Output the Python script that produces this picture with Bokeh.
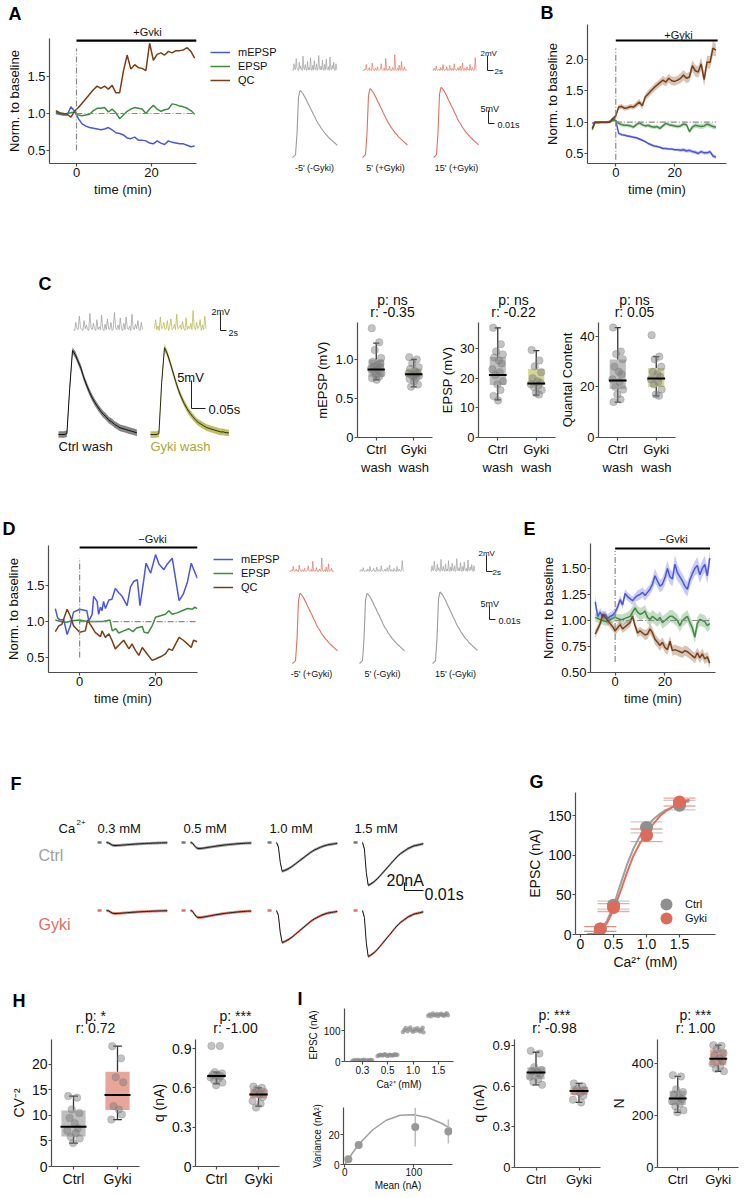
import numpy as np
from bokeh.plotting import figure
from bokeh.models import (Range1d, FixedTicker, Label, Legend, LegendItem,
                          Whisker, TeeHead, ColumnDataSource, PrintfTickFormatter)
from bokeh.layouts import row, column
from bokeh.embed import file_html
from bokeh.resources import INLINE

FONT = "Liberation Sans"
BLUE = "#4b56e0"; GREEN = "#3f8c3f"; BROWN = "#7a3e15"
GRAYC = "#9b9b9b"; REDC = "#e0705f"; OLIVEC = "#b4b444"
AXC = "#4d4d4d"; TXT = "#111111"; REFC = "#8a8a8a"

# ======================= DATA =======================
A_time = [-5.5, -4.5, -3.5, -2.5, -1.5, -0.5, 0.5, 1.5, 2.5, 3.5,
          4.5, 5.5, 6.5, 7.5, 8.5, 9.5, 10.5, 11.5, 12.5, 13.5,
          14.5, 15.5, 16.5, 17.5, 18.5, 19.5, 20.5, 21.5, 22.5, 23.5,
          24.5, 25.5, 26.5, 27.5, 28.5, 29.5, 30.5, 31.5]
A_mepsp = [1.00, 0.99, 0.98, 0.98, 1.09, 1.03, 0.93, 0.86, 0.83, 0.81,
           0.80, 0.79, 0.78, 0.79, 0.81, 0.78, 0.74, 0.73, 0.71, 0.67,
           0.66, 0.68, 0.64, 0.64, 0.63, 0.60, 0.59, 0.63, 0.60, 0.58,
           0.63, 0.61, 0.60, 0.59, 0.59, 0.57, 0.55, 0.56]
A_epsp = [1.02, 1.00, 0.99, 1.00, 1.01, 1.02, 0.98, 0.97, 0.98, 0.99,
          1.04, 1.07, 1.07, 1.08, 1.02, 1.06, 1.01, 0.93, 0.98, 1.03,
          1.06, 1.08, 1.07, 1.06, 1.00, 1.06, 1.11, 1.06, 1.03, 1.05,
          1.06, 1.13, 1.12, 1.10, 1.09, 1.07, 1.04, 0.99]
A_qc = [1.04, 1.01, 1.00, 0.99, 0.95, 1.03, 1.08, 1.14, 1.20, 1.26,
        1.32, 1.37, 1.34, 1.37, 1.33, 1.38, 1.28, 1.28, 1.57, 1.79,
        1.60, 1.66, 1.62, 1.61, 1.58, 1.95, 1.72, 1.80, 1.82, 1.79,
        1.84, 1.82, 1.85, 1.85, 1.86, 1.89, 1.84, 1.75]

B_time = [-8, -7, -6, -5, -4, -3, -2, -1, 0, 1,
          2, 3, 4, 5, 6, 7, 8, 9, 10, 11,
          12, 13, 14, 15, 16, 17, 18, 19, 20, 21,
          22, 23, 24, 25, 26, 27, 28, 29, 30, 31,
          32, 33, 34]
B_mepsp = [0.98, 1.00, 0.99, 1.00, 1.00, 1.00, 1.01, 1.06, 1.02, 0.82,
           0.80, 0.79, 0.78, 0.77, 0.76, 0.75, 0.73, 0.71, 0.69, 0.66,
           0.64, 0.62, 0.61, 0.60, 0.58, 0.58, 0.57, 0.57, 0.56, 0.56,
           0.55, 0.56, 0.54, 0.55, 0.53, 0.52, 0.50, 0.53, 0.51, 0.51,
           0.53, 0.46, 0.44]
B_mepsp_err = [0.02, 0.02, 0.02, 0.02, 0.02, 0.02, 0.02, 0.02, 0.02, 0.02,
               0.02, 0.02, 0.02, 0.02, 0.02, 0.02, 0.02, 0.02, 0.02, 0.02,
               0.02, 0.02, 0.02, 0.02, 0.02, 0.02, 0.02, 0.02, 0.02, 0.02,
               0.03, 0.03, 0.03, 0.03, 0.03, 0.03, 0.03, 0.03, 0.03, 0.03,
               0.03, 0.03, 0.03]
B_epsp = [0.88, 1.00, 1.00, 1.00, 1.00, 1.00, 1.01, 1.03, 1.02, 0.98,
          0.96, 0.95, 0.95, 0.94, 0.92, 0.96, 0.99, 0.96, 0.94, 0.95,
          0.93, 0.92, 0.93, 0.90, 0.94, 0.98, 0.96, 0.95, 0.94, 0.93,
          0.94, 0.97, 0.96, 0.85, 0.92, 0.95, 0.94, 0.93, 0.94, 0.97,
          0.95, 0.93, 0.92]
B_epsp_err = [0.03, 0.02, 0.02, 0.02, 0.02, 0.02, 0.02, 0.02, 0.02, 0.03,
              0.03, 0.03, 0.03, 0.03, 0.03, 0.03, 0.03, 0.03, 0.03, 0.03,
              0.03, 0.03, 0.03, 0.03, 0.03, 0.03, 0.03, 0.03, 0.03, 0.03,
              0.03, 0.03, 0.03, 0.04, 0.04, 0.04, 0.04, 0.04, 0.04, 0.04,
              0.04, 0.04, 0.04]
B_qc = [0.90, 1.00, 1.00, 1.00, 1.00, 1.00, 1.00, 1.05, 1.10, 1.24,
        1.25, 1.22, 1.23, 1.25, 1.24, 1.28, 1.32, 1.26, 1.40, 1.45,
        1.50, 1.55, 1.59, 1.63, 1.67, 1.64, 1.70, 1.66, 1.65, 1.67,
        1.70, 1.75, 1.70, 1.72, 1.90, 1.82, 1.80, 1.93, 1.68, 1.96,
        1.95, 2.18, 2.15]
B_qc_err = [0.03, 0.02, 0.02, 0.02, 0.02, 0.02, 0.02, 0.03, 0.04, 0.04,
            0.04, 0.04, 0.04, 0.04, 0.04, 0.05, 0.05, 0.05, 0.05, 0.06,
            0.06, 0.06, 0.06, 0.06, 0.07, 0.07, 0.07, 0.07, 0.07, 0.07,
            0.08, 0.08, 0.08, 0.08, 0.09, 0.09, 0.09, 0.10, 0.11, 0.10,
            0.10, 0.12, 0.10]

C_mepsp_ctrl = [1.40, 1.22, 1.12, 1.02, 0.97, 0.93, 0.90, 0.88, 0.87, 0.85, 0.82, 0.80, 0.78, 0.76, 0.74, 0.95, 0.91]
C_mepsp_gyki = [1.03, 1.00, 0.95, 0.90, 0.88, 0.85, 0.83, 0.82, 0.81, 0.80, 0.79, 0.78, 0.77, 0.75, 0.72, 0.68, 0.65]
C_mepsp_stats = [(0.78, 0.87, 1.00, 0.74, 1.21), (0.78, 0.81, 0.885, 0.65, 1.00)]
C_epsp_ctrl = [37, 31.5, 29, 28, 27, 26, 25, 23, 22, 21, 19, 18, 16, 14, 12.5]
C_epsp_gyki = [29.5, 26, 24, 22, 20, 19, 18.5, 18, 17.5, 17, 16, 15, 14.5]
C_epsp_stats = [(17.7, 21.1, 27.2, 12.7, 37.0), (17.7, 18.2, 23.2, 14.3, 29.3)]
C_qc_ctrl = [43.5, 34, 33, 31, 28, 26, 25, 23, 22, 20, 19, 17, 15, 14]
C_qc_gyki = [40.5, 32, 31, 28, 26, 25, 24, 23, 22, 21, 19, 17, 16.5]
C_qc_stats = [(19.2, 22.6, 30.9, 14.0, 43.5), (20.0, 23.3, 27.5, 16.5, 32.0)]
C_titles = [("p: ns", "r: -0.35"), ("p: ns", "r: -0.22"), ("p: ns", "r: 0.05")]

D_t_mepsp = [-6.4, -5.8, -5.1, -4.2, -3.3, -2.5, -1.6, 0.0, 1.9, 2.4,
             3.3, 3.7, 4.6, 5.0, 5.5, 5.9, 6.3, 6.8, 7.7, 8.5,
             9.4, 10.3, 11.2, 12.5, 13.4, 14.3, 15.2, 15.9, 16.9, 17.5,
             18.7, 20.0, 20.9, 22.2, 23.1, 24.4, 26.2, 27.3, 28.4, 29.4,
             30.0, 31.0]
D_mepsp = [1.18, 1.05, 1.02, 1.03, 0.82, 0.93, 1.13, 1.17, 1.15, 1.01,
           1.10, 1.35, 1.28, 1.10, 1.20, 1.15, 1.28, 1.18, 1.30, 1.31,
           1.46, 1.40, 1.35, 1.22, 1.48, 1.56, 1.58, 1.22, 1.58, 1.81,
           1.67, 1.93, 1.80, 1.72, 1.80, 1.88, 1.29, 1.38, 1.55, 1.81,
           1.73, 1.60]
D_t_epsp = [-6.4, -5.0, -3.5, -2.0, 0.0, 2.0, 4.0, 6.0, 7.0, 8.0,
            8.6, 9.5, 10.3, 11.6, 13.0, 14.0, 15.0, 16.5, 17.0, 18.0,
            19.1, 20.0, 21.3, 22.6, 23.5, 24.4, 25.7, 27.0, 28.4, 29.7,
            30.3, 31.0]
D_epsp = [1.02, 1.00, 0.99, 1.01, 1.02, 1.00, 1.00, 1.00, 1.01, 1.02,
          0.87, 0.90, 0.84, 0.87, 0.90, 0.86, 0.91, 0.93, 0.85, 0.84,
          0.94, 1.06, 1.08, 1.10, 1.15, 1.10, 1.12, 1.15, 1.18, 1.17,
          1.20, 1.18]
D_t_qc = [-6.4, -5.5, -4.7, -3.3, -2.5, -1.6, 0.0, 1.5, 2.1, 3.3,
          4.1, 5.5, 5.9, 6.8, 7.7, 8.5, 9.4, 10.3, 11.6, 13.0,
          13.8, 14.7, 15.6, 16.5, 17.8, 19.1, 20.0, 21.3, 22.6, 23.5,
          24.4, 25.3, 26.2, 27.3, 28.4, 29.4, 30.0, 31.0]
D_qc = [0.86, 0.94, 0.96, 1.17, 1.08, 0.94, 0.85, 0.87, 1.02, 0.92,
        0.85, 0.79, 0.87, 0.78, 0.83, 0.74, 0.62, 0.67, 0.74, 0.62,
        0.69, 0.60, 0.53, 0.64, 0.55, 0.46, 0.48, 0.51, 0.55, 0.62,
        0.60, 0.69, 0.78, 0.74, 0.69, 0.64, 0.74, 0.72]

E_time = [-8, -7, -6, -5, -4, -3, -2, -1, 0, 1,
          2, 3, 4, 5, 6, 7, 8, 9, 10, 11,
          12, 13, 14, 15, 16, 17, 18, 19, 20, 21,
          22, 23, 24, 25, 26, 27, 28, 29, 30, 31,
          32, 33, 34, 35, 36, 37, 38]
E_mepsp = [1.18, 1.04, 1.08, 1.03, 1.06, 1.02, 1.04, 1.05, 1.08, 1.13,
           1.20, 1.15, 1.26, 1.23, 1.21, 1.19, 1.22, 1.24, 1.25, 1.27,
           1.24, 1.27, 1.30, 1.35, 1.43, 1.38, 1.33, 1.35, 1.41, 1.50,
           1.42, 1.40, 1.54, 1.46, 1.42, 1.38, 1.33, 1.30, 1.39, 1.45,
           1.50, 1.53, 1.44, 1.50, 1.54, 1.43, 1.60]
E_mepsp_err = [0.06, 0.04, 0.04, 0.04, 0.04, 0.04, 0.04, 0.04, 0.04, 0.04,
               0.04, 0.04, 0.04, 0.04, 0.04, 0.04, 0.04, 0.05, 0.05, 0.05,
               0.05, 0.05, 0.05, 0.06, 0.07, 0.06, 0.06, 0.06, 0.07, 0.08,
               0.07, 0.07, 0.09, 0.08, 0.07, 0.07, 0.07, 0.07, 0.07, 0.07,
               0.07, 0.08, 0.08, 0.08, 0.08, 0.08, 0.08]
E_epsp = [1.03, 1.02, 1.01, 1.00, 0.99, 0.99, 1.01, 1.02, 1.03, 1.02,
          1.01, 1.01, 1.02, 1.03, 1.04, 1.08, 1.12, 1.08, 1.06, 1.07,
          1.09, 1.03, 1.01, 1.04, 1.02, 1.00, 1.03, 0.98, 1.00, 1.02,
          1.04, 1.04, 1.02, 1.00, 0.95, 1.00, 1.02, 1.04, 0.98, 0.93,
          0.84, 0.97, 1.01, 1.00, 0.99, 0.95, 0.97]
E_epsp_err = [0.04, 0.04, 0.04, 0.04, 0.04, 0.04, 0.04, 0.04, 0.04, 0.04,
              0.05, 0.05, 0.05, 0.05, 0.06, 0.06, 0.06, 0.06, 0.06, 0.06,
              0.06, 0.06, 0.06, 0.06, 0.06, 0.06, 0.06, 0.06, 0.06, 0.06,
              0.06, 0.06, 0.06, 0.06, 0.06, 0.06, 0.06, 0.06, 0.06, 0.06,
              0.06, 0.06, 0.06, 0.06, 0.06, 0.06, 0.06]
E_qc = [0.87, 0.92, 0.97, 1.06, 1.03, 1.00, 0.97, 0.94, 0.90, 0.93,
        0.96, 0.92, 0.94, 0.96, 0.98, 1.04, 0.95, 0.88, 0.90, 0.88,
        0.86, 0.87, 0.92, 0.88, 0.82, 0.79, 0.76, 0.79, 0.74, 0.72,
        0.80, 0.71, 0.72, 0.71, 0.70, 0.69, 0.71, 0.70, 0.68, 0.66,
        0.64, 0.69, 0.64, 0.68, 0.63, 0.65, 0.59]
E_qc_err = [0.04, 0.04, 0.04, 0.04, 0.04, 0.04, 0.04, 0.04, 0.04, 0.04,
            0.04, 0.04, 0.04, 0.04, 0.04, 0.04, 0.04, 0.04, 0.04, 0.04,
            0.05, 0.05, 0.05, 0.05, 0.05, 0.05, 0.05, 0.05, 0.05, 0.05,
            0.05, 0.05, 0.05, 0.05, 0.05, 0.05, 0.05, 0.05, 0.05, 0.05,
            0.05, 0.05, 0.05, 0.05, 0.05, 0.05, 0.05]

MINIS_1 = [0.1, 0.0, 0.9, 0.2, 0.1, 1.6, 0.3, 0.1, 0.0, 1.1,
           0.2, 0.6, 0.1, 0.0, 1.9, 0.3, 0.1, 0.8, 0.2, 0.0,
           1.2, 0.1, 0.4, 0.1, 1.7, 0.2, 0.0, 0.7, 0.1, 1.3,
           0.2, 0.1, 0.9, 0.0, 0.2, 2.0, 0.3, 0.1, 0.6, 0.1,
           1.4, 0.2, 0.0, 0.8, 0.1, 1.5, 0.3, 0.1, 0.5, 0.0,
           1.8, 0.2, 0.1, 0.7, 0.2, 1.1, 0.1, 0.0, 0.9, 0.1]
MINIS_2 = [0.0, 0.1, 0.0, 0.2, 0.1, 0.8, 0.1, 0.0, 0.1, 0.4,
           0.0, 0.1, 0.0, 1.0, 0.2, 0.1, 0.0, 0.3, 0.1, 0.0,
           0.5, 0.1, 0.0, 0.1, 0.2, 0.9, 0.1, 0.0, 0.1, 0.3,
           0.0, 1.6, 0.1, 0.0, 0.2, 0.1, 0.6, 0.0, 0.1, 0.0,
           0.4, 0.1, 0.0, 2.1, 0.2, 0.0, 0.1, 0.3, 0.0, 0.7,
           0.1, 0.0, 1.2, 0.1, 0.0, 0.2, 0.5, 0.0, 0.1, 0.0]
MINIS_3 = [0.1, 0.0, 0.3, 0.1, 0.0, 0.6, 0.1, 0.0, 0.1, 0.2,
           0.0, 0.4, 0.1, 0.0, 0.8, 0.1, 0.0, 0.2, 0.1, 0.5,
           0.0, 0.1, 0.0, 0.7, 0.1, 0.0, 0.3, 0.1, 0.0, 0.9,
           0.1, 0.2, 0.0, 0.1, 0.4, 0.0, 0.1, 0.6, 0.0, 0.1,
           1.0, 0.1, 0.0, 0.3, 0.1, 0.0, 0.5, 0.1, 0.2, 0.0,
           0.8, 0.1, 0.0, 0.4, 0.1, 0.0, 0.2, 1.7, 0.1, 0.0]
MINIS_4 = [0.2, 1.2, 0.1, 0.5, 0.0, 1.5, 0.2, 0.3, 0.9, 0.1,
           0.2, 1.1, 0.0, 0.4, 1.3, 0.1, 0.2, 0.7, 0.1, 1.8,
           0.2, 0.3, 0.6, 0.1, 1.0, 0.2, 0.0, 1.4, 0.1, 0.5,
           0.2, 0.8, 0.1, 2.2, 0.3, 0.1, 0.9, 0.2, 0.4, 1.2,
           0.0, 0.6, 0.1, 1.6, 0.2]
EPSP_WAVE = [0.0, 0.02, 0.04, 0.35, 0.90, 1.00, 0.98, 0.95, 0.91, 0.87,
             0.82, 0.78, 0.73, 0.69, 0.64, 0.60, 0.55, 0.51, 0.48, 0.44,
             0.41, 0.38, 0.35, 0.33, 0.30, 0.28, 0.26, 0.24, 0.22, 0.20, 0.18]
EPSP_A_amp = [25.8, 26.5, 27.0]
EPSP_D_amp = [27.0, 27.0, 27.5]
A_trace_labels = ["-5' (-Gyki)", "5' (+Gyki)", "15' (+Gyki)"]
D_trace_labels = ["-5' (+Gyki)", "5' (-Gyki)", "15' (-Gyki)"]
C_WAVE_CTRL = [0.0, 0.0, 0.0, 0.01, 0.55, 1.00, 0.95, 0.87, 0.79, 0.68,
               0.59, 0.51, 0.44, 0.38, 0.33, 0.28, 0.24, 0.21, 0.17, 0.15,
               0.12, 0.10, 0.08, 0.07, 0.06, 0.05, 0.04, 0.03, 0.02]
C_WAVE_GYKI = [0.0, 0.0, 0.0, 0.01, 0.60, 1.00, 0.93, 0.83, 0.72, 0.61,
               0.51, 0.43, 0.36, 0.30, 0.25, 0.21, 0.17, 0.14, 0.12, 0.10,
               0.08, 0.07, 0.06, 0.05, 0.04, 0.03, 0.03, 0.02, 0.02]
C_amp = [15.0, 15.5]

EPSC_FAST = [0.0, -0.15, -0.70, -1.00, -0.98, -0.95, -0.92, -0.88, -0.84, -0.79,
             -0.74, -0.69, -0.64, -0.59, -0.54, -0.49, -0.44, -0.39, -0.34, -0.30,
             -0.26, -0.23, -0.20, -0.17, -0.14, -0.12, -0.10, -0.08, -0.07, -0.06,
             -0.05, -0.04, -0.03]
EPSC_SLOW = [0.0, -0.10, -0.50, -0.85, -1.00, -1.00, -0.97, -0.93, -0.88, -0.83,
             -0.78, -0.73, -0.68, -0.63, -0.58, -0.54, -0.50, -0.46, -0.42, -0.38,
             -0.35, -0.32, -0.29, -0.26, -0.23, -0.21, -0.18, -0.16, -0.14, -0.12,
             -0.10, -0.09, -0.08]
F_ca_labels = ["0.3 mM", "0.5 mM", "1.0 mM", "1.5 mM"]
F_amp_ctrl = [7.5, 15.0, 72.0, 107.0]
F_amp_gyki = [7.5, 17.5, 80.0, 115.0]

G_ca = [0.3, 0.5, 1.0, 1.5]
G_ctrl = [7, 37, 135, 163]
G_ctrl_err = [3, 5, 7, 6]
G_gyki = [7, 34, 125, 167]
G_gyki_err = [3, 5, 8, 5]
G_fit_x = [0.1, 0.2, 0.3, 0.4, 0.5, 0.6, 0.7, 0.8, 0.9, 1.0, 1.1, 1.2, 1.3, 1.4, 1.5, 1.6, 1.65]
G_fit_ctrl = [0, 1, 6, 17, 36, 62, 87, 108, 124, 136, 145, 152, 157, 161, 164, 167, 168]
G_fit_gyki = [0, 1, 5, 14, 31, 53, 77, 99, 115, 127, 139, 149, 156, 161, 165, 169, 170]

H_cv_ctrl = [13.8, 13.5, 11.2, 10.5, 9.5, 8.5, 7.5, 7.0, 6.5, 5.8, 5.5, 4.6]
H_cv_gyki = [23.6, 21.2, 17.5, 16.5, 11.8, 11.2, 10.2, 9.2]
H_cv_stats = [(5.9, 7.8, 11.0, 4.6, 13.8), (11.1, 14.0, 18.6, 9.2, 23.6)]
H_q_ctrl = [0.92, 0.92, 0.72, 0.71, 0.70, 0.69, 0.69, 0.68, 0.67, 0.66, 0.64, 0.62]
H_q_gyki = [0.61, 0.60, 0.59, 0.57, 0.56, 0.55, 0.53, 0.50, 0.48, 0.45]
H_q_stats = [(0.675, 0.69, 0.705, 0.63, 0.72), (0.52, 0.55, 0.585, 0.46, 0.60)]

I_ca_labels = ["0.3", "0.5", "1.0", "1.5"]
I_epsc = [[2, 3, 4, 3, 5, 2, 4, 3, 6, 3, 2, 4, 3, 5, 4],
          [18, 20, 22, 19, 21, 23, 20, 18, 22, 21, 19, 20, 23, 21, 22],
          [95, 102, 108, 98, 104, 110, 100, 96, 105, 99, 107, 101, 97, 103, 109, 94],
          [148, 152, 146, 155, 150, 149, 153, 147, 151, 154, 150, 148, 152, 156, 149]]
I_mean = [5, 20, 102, 150]
I_var = [3.5, 13, 25, 22]
I_var_err = [0.5, 0.8, 13, 8]
I_fit_x = [0, 10, 20, 40, 60, 80, 100, 120, 140, 155]
I_fit_y = [0, 7.0, 13.3, 23.0, 29.5, 32.8, 33.2, 31.3, 27.5, 23.6]
I_q_ctrl = [0.86, 0.84, 0.74, 0.72, 0.71, 0.70, 0.69, 0.67, 0.65, 0.63, 0.61]
I_q_gyki = [0.62, 0.60, 0.58, 0.57, 0.56, 0.55, 0.53, 0.50, 0.48]
I_q_stats = [(0.65, 0.70, 0.74, 0.61, 0.85), (0.535, 0.565, 0.595, 0.48, 0.62)]
I_N_ctrl = [355, 350, 300, 290, 280, 270, 262, 255, 245, 235, 220, 212]
I_N_gyki = [470, 468, 455, 440, 430, 420, 410, 400, 390, 380, 370]
I_N_stats = [(240, 265, 295, 212, 350), (393, 418, 454, 370, 470)]

JIT = [-0.12, 0.08, -0.04, 0.13, -0.09, 0.03, 0.10, -0.14, 0.05, -0.06,
       0.14, -0.01, 0.07, -0.11, 0.01, 0.11, -0.07]
JIT_I = [-0.40, -0.34, -0.29, -0.22, -0.17, -0.11, -0.05, 0.0, 0.06, 0.11,
         0.17, 0.22, 0.28, 0.33, 0.38, 0.41]


# ======================= HELPERS =======================
class Panel:
    def __init__(self, L, T, W, H, xr=None, yr=None, left=0, right=0, top=0,
                 bottom=0, axes=True, fs="13px", lfs="13px"):
        if xr is None:
            xr = (0, W)
        if yr is None:
            yr = (0, H)
        kw = dict(width=W, height=H, x_range=Range1d(*xr), y_range=Range1d(*yr),
                  output_backend="svg", toolbar_location=None,
                  min_border_left=left, min_border_right=right,
                  min_border_top=top, min_border_bottom=bottom)
        if not axes:
            kw.update(x_axis_location=None, y_axis_location=None)
        p = figure(**kw)
        p.outline_line_color = None
        p.grid.visible = False
        if axes:
            for ax in (p.xaxis[0], p.yaxis[0]):
                ax.axis_line_color = AXC
                ax.axis_line_width = 1.2
                ax.major_tick_line_color = AXC
                ax.major_tick_line_width = 1.2
                ax.major_tick_in = 0
                ax.major_tick_out = 3
                ax.minor_tick_line_color = None
                ax.major_label_text_font = FONT
                ax.major_label_text_font_size = fs
                ax.major_label_text_color = TXT
                ax.major_label_standoff = 1
                ax.axis_label_text_font = FONT
                ax.axis_label_text_font_size = lfs
                ax.axis_label_text_font_style = "normal"
                ax.axis_label_text_color = TXT
                ax.axis_label_standoff = 2
        self.p = p
        self.fl = L + left
        self.fb = T + H - bottom

    def X(self, x):
        return np.asarray(x, dtype=float) - self.fl

    def Y(self, y):
        return self.fb - np.asarray(y, dtype=float)

    def lab(self, x, y, text, size="13px", align="left", baseline="alphabetic",
            color=TXT, bold=False):
        self.p.add_layout(Label(x=x - self.fl, y=self.fb - y, x_units="screen",
                                y_units="screen", text=text, text_font=FONT,
                                text_font_size=size, text_align=align,
                                text_baseline=baseline, text_color=color,
                                text_font_style="bold" if bold else "normal"))

    def letter(self, x, y, text):
        self.lab(x, y, text, size="18px", baseline="top", bold=True, color="#000000")


def ticks(p, xt=None, yt=None, xo=None, yo=None, xfmt=None, yfmt=None):
    if xt is not None:
        p.xaxis.ticker = FixedTicker(ticks=xt)
    if yt is not None:
        p.yaxis.ticker = FixedTicker(ticks=yt)
    if xfmt:
        p.xaxis.formatter = PrintfTickFormatter(format=xfmt)
    if yfmt:
        p.yaxis.formatter = PrintfTickFormatter(format=yfmt)
    if xo:
        p.xaxis.major_label_overrides = xo
    if yo:
        p.yaxis.major_label_overrides = yo


def boxplot(p, pos, vals, stats, color, alpha, width=0.42, cap=0.16):
    q1, med, q3, wlo, whi = stats
    p.quad(left=[pos - width / 2], right=[pos + width / 2], bottom=[q1], top=[q3],
           fill_color=color, fill_alpha=alpha, line_color=None)
    p.segment(x0=[pos, pos], y0=[q3, q1], x1=[pos, pos], y1=[whi, wlo],
              line_color="#333333", line_width=1.3)
    p.segment(x0=[pos - cap / 2] * 2, y0=[whi, wlo], x1=[pos + cap / 2] * 2,
              y1=[whi, wlo], line_color="#333333", line_width=1.3)
    xs = [pos + JIT[i % len(JIT)] for i in range(len(vals))]
    p.scatter(xs, vals, size=7.5, fill_color="#7a7a7a", fill_alpha=0.45,
              line_color="#7a7a7a", line_alpha=0.3)
    p.segment(x0=[pos - width / 2 - 0.02], y0=[med], x1=[pos + width / 2 + 0.02],
              y1=[med], line_color="#000000", line_width=2)


def time_panel(pn, series, bar_end, bar_y, vline, hline_end):
    p = pn.p
    for t, v, e, c in series:
        if e is not None:
            lo = np.array(v) - np.array(e)
            hi = np.array(v) + np.array(e)
            p.varea(x=t, y1=lo, y2=hi, fill_color=c, fill_alpha=0.3)
    for t, v, e, c in series:
        p.line(t, v, line_color=c, line_width=1.5)
    p.line([0, 0], vline, line_color=REFC, line_width=1.2, line_dash="6 2 1 2")
    p.line([0, hline_end], [1.0, 1.0], line_color=REFC, line_width=1.2, line_dash="6 2 1 2")
    p.line([0, bar_end], [bar_y, bar_y], line_color="#000000", line_width=2.2)
    p.yaxis.axis_label = "Norm. to baseline"
    p.xaxis.axis_label = "time (min)"


def legend3(pn, x, y, rowh):
    p = pn.p
    rs = [p.line([np.nan, np.nan], [np.nan, np.nan], line_color=c, line_width=1.5)
          for c in (BLUE, GREEN, BROWN)]
    items = [LegendItem(label=n, renderers=[r]) for n, r in zip(["mEPSP", "EPSP", "QC"], rs)]
    leg = Legend(items=items, location=(x, y), padding=0, margin=0, spacing=0,
                 glyph_width=20, glyph_height=rowh, label_height=rowh,
                 label_standoff=8, label_text_font=FONT, label_text_font_size="11px",
                 label_text_color=TXT, border_line_color=None, background_fill_alpha=0)
    p.add_layout(leg)


def place(pn, x0, y0, t, v, sx, sy):
    return pn.X(x0) + np.asarray(t, dtype=float) * sx, pn.Y(y0) + np.asarray(v, dtype=float) * sy


def scalebar(pn, x, y, h, w, color="#222222", lw=1.0):
    pn.p.line(list(pn.X([x, x, x + w])), list(pn.Y([y - h, y, y])), line_color=color, line_width=lw)


def W(pn):
    return column(pn.p)


# ======================= BAND 1 (A, traces, B) =======================
sA = Panel(0, 0, 200, 36, axes=False)
sA.letter(8, 3, "A")
sA.lab(147, 31, "+Gyki", size="11px", align="center")
pa = Panel(0, 36, 200, 202, xr=(-7.2, 32.0), yr=(0.324, 2.014), left=49, right=4, top=2, bottom=75)
time_panel(pa, [(A_time, A_mepsp, None, BLUE), (A_time, A_epsp, None, GREEN), (A_time, A_qc, None, BROWN)],
           bar_end=32.0, bar_y=1.986, vline=[0.5, 1.88], hline_end=31.5)
ticks(pa.p, xt=[0, 20], yt=[0.5, 1.0, 1.5], yfmt="%.1f")

ta = Panel(200, 0, 338, 238, axes=False)
legend3(ta, 10, 238 - 87, 14)
MINI_DT_A = 0.25
EPSP_DT = 2.5
SX_MINI, SY_MINI_A = 3.0, 7.5
SX_EPSP, SY_EPSP = 0.6, 2.6
for x0, m, c in zip([292, 362, 432], [MINIS_1, MINIS_2, MINIS_3], [GRAYC, REDC, REDC]):
    xs, ys = place(ta, x0, 70, np.arange(len(m)) * MINI_DT_A, m, SX_MINI, SY_MINI_A)
    ta.p.line(xs, ys, line_color=c, line_width=0.8, line_alpha=0.85)
for x0, amp, c in zip([292, 362, 433], EPSP_A_amp, [GRAYC, REDC, REDC]):
    xs, ys = place(ta, x0, 157, np.arange(len(EPSP_WAVE)) * EPSP_DT, np.array(EPSP_WAVE) * amp, SX_EPSP, SY_EPSP)
    ta.p.line(xs, ys, line_color=c, line_width=1.1)
for xc, t in zip([314, 385, 456], A_trace_labels):
    ta.lab(xc, 167, t, size="9px", align="center", baseline="middle")
scalebar(ta, 487, 70, 2 * SY_MINI_A, 2 * SX_MINI)
ta.lab(480, 53, "2mV", size="8px")
ta.lab(494, 71, "2s", size="8px", baseline="middle")
scalebar(ta, 488, 123, 5 * SY_EPSP, 10 * SX_EPSP)
ta.lab(480, 108, "5mV", size="9px")
ta.lab(497, 124, "0.01s", size="9px", baseline="middle")

sB = Panel(538, 0, 209, 24, axes=False)
sB.letter(540, 2, "B")
pb = Panel(538, 24, 209, 214, xr=(-9.6, 37.6), yr=(0.34, 2.558), left=49, right=21, top=0, bottom=75)
time_panel(pb, [(B_time, B_mepsp, B_mepsp_err, BLUE), (B_time, B_epsp, B_epsp_err, GREEN),
                (B_time, B_qc, B_qc_err, BROWN)],
           bar_end=34.6, bar_y=2.303, vline=[0.40, 2.18], hline_end=34)
ticks(pb.p, xt=[0, 20], yt=[0.5, 1.0, 1.5, 2.0], yfmt="%.1f")
pb.lab(678, 34, "+Gyki", size="11px", align="center")

band1 = row(column(W(sA), W(pa)), W(ta), column(W(sB), W(pb)))

# ======================= BAND 2 (C) =======================
tc = Panel(0, 238, 312, 248, axes=False)
tc.letter(38, 273, "C")
MINI_DT_C = 0.39
SY_MINI_C = 9.0
for x0, m, c, n in [(73, MINIS_1, GRAYC, 60), (154, MINIS_4, OLIVEC, 45)]:
    xs, ys = place(tc, x0, 330, np.arange(n) * MINI_DT_C, m[:n], SX_MINI, SY_MINI_C)
    tc.p.line(xs, ys, line_color=c, line_width=0.8, line_alpha=0.9)
C_DT = 10.0
SX_C, SY_C = 0.28, 5.6
for x0, amp, wave, band, lc in [(58, C_amp[0], C_WAVE_CTRL, "#6f6f6f", "#111111"),
                                (150, C_amp[1], C_WAVE_GYKI, OLIVEC, "#2a2a10")]:
    t = np.arange(len(wave)) * C_DT
    w = np.array(wave) * amp
    xs, y_lo = place(tc, x0, 434, t, w - 0.6, SX_C, SY_C)
    _, y_hi = place(tc, x0, 434, t, w + 0.6, SX_C, SY_C)
    tc.p.varea(x=xs, y1=y_lo, y2=y_hi, fill_color=band, fill_alpha=0.85)
    _, ys = place(tc, x0, 434, t, w, SX_C, SY_C)
    tc.p.line(xs, ys, line_color=lc, line_width=1.0)
tc.lab(58, 446, "Ctrl wash", size="13px", baseline="middle")
tc.lab(150, 446, "Gyki wash", size="13px", baseline="middle", color="#a8a83a")
scalebar(tc, 220, 330, 2 * SY_MINI_C, 2 * SX_MINI)
tc.lab(211, 311, "2mV", size="9px")
tc.lab(228, 332, "2s", size="9px", baseline="middle")
scalebar(tc, 191, 408, 5 * SY_C, 50 * SX_C)
tc.lab(190, 377, "5mV", size="13px", align="center")
tc.lab(208, 409, "0.05s", size="13px", baseline="middle")

sC = Panel(312, 238, 435, 83, axes=False)
box_specs = [
    (312, 125, 40, 5, (0, 1.474), [0, 0.5, 1.0], "%.1f", {0: "0"}, "mEPSP (mV)", C_mepsp_ctrl, C_mepsp_gyki, C_mepsp_stats, 392),
    (437, 120, 36, 2, (0, 38.8), [0, 10, 20, 30], None, None, "EPSP (mV)", C_epsp_ctrl, C_epsp_gyki, C_epsp_stats, 513),
    (557, 190, 36, 72, (0, 45.5), [0, 20, 40], None, None, "Quantal Content", C_qc_ctrl, C_qc_gyki, C_qc_stats, 634),
]
c_boxes = []
for k, (L, Wd, lb, rb, yr, yt, yf, yo, ylab, vc, vg, st, tx) in enumerate(box_specs):
    bp = Panel(L, 321, Wd, 165, xr=(-0.5, 1.5), yr=yr, left=lb, right=rb, top=1, bottom=49)
    boxplot(bp.p, 0, vc, st[0], "#a3a3a3", 0.7)
    boxplot(bp.p, 1, vg, st[1], "#b9b955", 0.6)
    ticks(bp.p, xt=[0, 1], yt=yt, xo={0: "Ctrl\nwash", 1: "Gyki\nwash"}, yo=yo, yfmt=yf)
    bp.p.yaxis.axis_label = ylab
    sC.lab(tx, 299, C_titles[k][0], size="14px", align="center")
    sC.lab(tx, 311, C_titles[k][1], size="14px", align="center")
    c_boxes.append(bp)

band2 = row(W(tc), column(W(sC), row(*[W(b) for b in c_boxes])))

# ======================= BAND 3 (D, traces, E) =======================
sD = Panel(0, 486, 205, 57, axes=False)
sD.letter(2, 518, "D")
sD.lab(152, 538, "\u2212Gyki", size="11px", align="center")
pd_ = Panel(0, 543, 205, 193, xr=(-8.2, 31.05), yr=(0.292, 2.056), left=48, right=8, top=2, bottom=64)
time_panel(pd_, [(D_t_mepsp, D_mepsp, None, BLUE), (D_t_epsp, D_epsp, None, GREEN), (D_t_qc, D_qc, None, BROWN)],
           bar_end=31.05, bar_y=2.028, vline=[0.5, 1.88], hline_end=31.0)
ticks(pd_.p, xt=[0, 20], yt=[0.5, 1.0, 1.5], yfmt="%.1f")

td = Panel(205, 486, 333, 250, axes=False)
legend3(td, 8, 736 - 594, 14)
SY_MINI_D = 8.0
for x0, m, c in zip([289, 359, 430], [MINIS_2, MINIS_3, MINIS_1], [REDC, GRAYC, GRAYC]):
    xs, ys = place(td, x0, 571, np.arange(len(m)) * MINI_DT_A, np.array(m) * 0.8, SX_MINI, SY_MINI_D)
    td.p.line(xs, ys, line_color=c, line_width=0.8, line_alpha=0.85)
for x0, amp, c in zip([292, 359, 432], EPSP_D_amp, [REDC, GRAYC, GRAYC]):
    xs, ys = place(td, x0, 663, np.arange(len(EPSP_WAVE)) * EPSP_DT, np.array(EPSP_WAVE) * amp, SX_EPSP, SY_EPSP)
    td.p.line(xs, ys, line_color=c, line_width=1.1)
for xc, t in zip([311, 382, 455], D_trace_labels):
    td.lab(xc, 673, t, size="9px", align="center", baseline="middle")
scalebar(td, 486, 571, 2 * SY_MINI_D, 2 * SX_MINI)
td.lab(478, 553, "2mV", size="8px")
td.lab(492, 572, "2s", size="8px", baseline="middle")
scalebar(td, 489, 619, 5 * SY_EPSP, 10 * SX_EPSP)
td.lab(480, 603, "5mV", size="9px")
td.lab(498, 620, "0.01s", size="9px", baseline="middle")
td.letter(523, 518, "E")

sE = Panel(538, 486, 209, 57, axes=False)
sE.lab(673, 538, "\u2212Gyki", size="11px", align="center")
pe = Panel(538, 543, 209, 193, xr=(-9.9, 40.3), yr=(0.5, 1.74), left=49, right=32, top=0, bottom=64)
time_panel(pe, [(E_time, E_mepsp, E_mepsp_err, BLUE), (E_time, E_epsp, E_epsp_err, GREEN),
                (E_time, E_qc, E_qc_err, BROWN)],
           bar_end=38.1, bar_y=1.692, vline=[0.6, 1.67], hline_end=38)
ticks(pe.p, xt=[0, 20], yt=[0.5, 0.75, 1.0, 1.25, 1.5], yfmt="%.2f")

band3 = row(column(W(sD), W(pd_)), W(td), column(W(sE), W(pe)))

# ======================= BAND 4 (F, G) =======================
tf = Panel(0, 736, 520, 244, axes=False)
tf.letter(10, 773, "F")
tf.lab(58, 828, "Ca", size="13px")
tf.lab(76, 822, "2+", size="8px")
for xl, t in zip([97, 183, 269, 354], F_ca_labels):
    tf.lab(xl, 828, t, size="13px")
tf.lab(38, 855, "Ctrl", size="16px", baseline="middle", color="#a0a0a0")
tf.lab(38, 924, "Gyki", size="16px", baseline="middle", color=REDC)
SX_F, SY_F = 1.9, 0.4
F_waves = [EPSC_SLOW, EPSC_SLOW, EPSC_FAST, EPSC_FAST]
for y0, amps, band, stub in [(842, F_amp_ctrl, "#8a8a8a", "#777777"), (910, F_amp_gyki, REDC, REDC)]:
    for x0, amp, wave in zip([106, 190, 276, 362], amps, F_waves):
        t = np.arange(len(wave)) * 1.0
        w = np.array(wave) * amp
        xs, y_lo = place(tf, x0, y0, t, w - 3.5, SX_F, SY_F)
        _, y_hi = place(tf, x0, y0, t, w + 3.5, SX_F, SY_F)
        tf.p.varea(x=xs, y1=y_lo, y2=y_hi, fill_color=band, fill_alpha=0.85)
        _, ys = place(tf, x0, y0, t, w, SX_F, SY_F)
        tf.p.line(xs, ys, line_color="#1a1a1a", line_width=1.0)
        sxs, sys_ = place(tf, x0, y0, [-4.7, -2.6], [0, 0], SX_F, SY_F)
        tf.p.line(sxs, sys_, line_color=stub, line_width=2.5)
scalebar(tf, 404, 890, 20 * SY_F, 10 * SX_F, color="#111111", lw=1.2)
tf.lab(386, 880, "20nA", size="16px")
tf.lab(424, 894, "0.01s", size="16px")

sG = Panel(520, 736, 227, 56, axes=False)
sG.letter(529, 771, "G")
pg = Panel(520, 792, 227, 188, xr=(-0.076, 2.045), yr=(0, 179), left=55, right=32, top=0, bottom=46,
           fs="14px", lfs="14px")
g = pg.p
g.line(G_fit_x, G_fit_ctrl, line_color="#a0a0a0", line_width=2)
g.line(G_fit_x, G_fit_gyki, line_color=REDC, line_width=2)
for vals, err, c in [(G_ctrl, G_ctrl_err, "#a8a8a8"), (G_gyki, G_gyki_err, REDC)]:
    src = ColumnDataSource(dict(x=G_ca, u=list(np.array(vals) + np.array(err)),
                                l=list(np.array(vals) - np.array(err))))
    g.add_layout(Whisker(base="x", upper="u", lower="l", source=src, line_color=c, line_alpha=0.6,
                         line_width=1.3,
                         upper_head=TeeHead(size=32, line_color=c, line_alpha=0.6, line_width=1.3),
                         lower_head=TeeHead(size=32, line_color=c, line_alpha=0.6, line_width=1.3)))
r_ctrl = g.scatter(G_ca, G_ctrl, size=13, fill_color="#8f8f8f", line_color=None)
r_gyki = g.scatter(G_ca, G_gyki, size=13, fill_color="#dd6b5a", line_color=None)
for r, name, vy in [(r_ctrl, "Ctrl", 15), (r_gyki, "Gyki", 1)]:
    g.add_layout(Legend(items=[LegendItem(label=name, renderers=[r])], location=(76, vy),
                        padding=0, margin=0, spacing=0, glyph_width=30, glyph_height=30,
                        label_height=14, label_standoff=4, label_text_font=FONT,
                        label_text_font_size="11px", label_text_color=TXT,
                        border_line_color=None, background_fill_alpha=0))
ticks(g, xt=[0, 0.5, 1.0, 1.5], yt=[0, 50, 100, 150], xo={0: "0"}, xfmt="%.1f")
g.yaxis.axis_label = "EPSC (nA)"
g.xaxis.axis_label = "Ca\u00b2\u207a (mM)"

band4 = row(W(tf), column(W(sG), W(pg)))

# ======================= BAND 5 (H, I) =======================
SALMON = "#de7f6e"
sH1 = Panel(0, 980, 148, 56, axes=False)
sH1.letter(12, 990, "H")
sH1.lab(95, 1015, "p: *", size="14px", align="center")
sH1.lab(95, 1027, "r: 0.72", size="14px", align="center")
h1 = Panel(0, 1036, 148, 158, xr=(-0.5, 1.5), yr=(0, 24.9), left=51, right=9, top=3, bottom=28,
           fs="14px", lfs="14px")
boxplot(h1.p, 0, H_cv_ctrl, H_cv_stats[0], "#a3a3a3", 0.7, width=0.55, cap=0.2)
boxplot(h1.p, 1, H_cv_gyki, H_cv_stats[1], SALMON, 0.7, width=0.55, cap=0.2)
ticks(h1.p, xt=[0, 1], yt=[0, 5, 10, 15, 20], xo={0: "Ctrl", 1: "Gyki"})
h1.p.yaxis.axis_label = "CV\u207b\u00b2"

sH2 = Panel(148, 980, 148, 56, axes=False)
sH2.lab(235, 1015, "p: ***", size="14px", align="center")
sH2.lab(235, 1027, "r: -1.00", size="14px", align="center")
h2 = Panel(148, 1036, 148, 158, xr=(-0.5, 1.5), yr=(0, 0.969), left=44, right=17, top=3, bottom=28,
           fs="14px", lfs="14px")
boxplot(h2.p, 0, H_q_ctrl, H_q_stats[0], "#a3a3a3", 0.7, width=0.4)
boxplot(h2.p, 1, H_q_gyki, H_q_stats[1], SALMON, 0.7, width=0.4)
ticks(h2.p, xt=[0, 1], yt=[0, 0.3, 0.6, 0.9], xo={0: "Ctrl", 1: "Gyki"}, yo={0: "0"})
h2.p.yaxis.axis_label = "q (nA)"

sI = Panel(296, 980, 172, 28, axes=False)
sI.letter(297, 988, "I")
it = Panel(296, 1008, 172, 84, xr=(-0.71, 3.6), yr=(0, 171), left=48, right=15, top=0, bottom=31,
           fs="10px", lfs="10px")
for k, vals in enumerate(I_epsc):
    xs = [k + JIT_I[i % len(JIT_I)] for i in range(len(vals))]
    it.p.scatter(xs, vals, size=4.5, fill_color="#8c8c8c", fill_alpha=0.7, line_color=None)
ticks(it.p, xt=[0, 1, 2, 3], yt=[0, 100], xo={0: I_ca_labels[0], 1: I_ca_labels[1],
                                              2: I_ca_labels[2], 3: I_ca_labels[3]})
it.p.yaxis.axis_label = "EPSC (nA)"
it.p.xaxis.axis_label = "Ca\u00b2\u207a (mM)"

ib = Panel(296, 1092, 172, 102, xr=(-2, 156), yr=(0, 38), left=47, right=16, top=15, bottom=30,
           fs="10px", lfs="10px")
ib.p.xaxis.major_label_standoff = 0
ib.p.xaxis.axis_label_standoff = 1
ib.p.line(I_fit_x, I_fit_y, line_color="#a0a0a0", line_width=1.5)
ib.p.segment(x0=I_mean, x1=I_mean, y0=list(np.array(I_var) - np.array(I_var_err)),
             y1=list(np.array(I_var) + np.array(I_var_err)), line_color="#bdbdbd", line_width=1.5)
ib.p.scatter(I_mean, I_var, size=8, fill_color="#999999", line_color=None)
ticks(ib.p, xt=[0, 100], yt=[0, 20])
ib.p.yaxis.axis_label = "Variance (nA\u00b2)"
ib.p.xaxis.axis_label = "Mean (nA)"

sIq = Panel(468, 980, 139, 56, axes=False)
sIq.lab(554, 1014, "p: ***", size="14px", align="center")
sIq.lab(554, 1027, "r: -0.98", size="14px", align="center")
iq = Panel(468, 1036, 139, 158, xr=(-0.5, 1.5), yr=(0, 0.944), left=42, right=7, top=3, bottom=27,
           fs="13px", lfs="14px")
boxplot(iq.p, 0, I_q_ctrl, I_q_stats[0], "#a3a3a3", 0.7, width=0.4)
boxplot(iq.p, 1, I_q_gyki, I_q_stats[1], SALMON, 0.7, width=0.4)
ticks(iq.p, xt=[0, 1], yt=[0, 0.3, 0.6, 0.9], xo={0: "Ctrl", 1: "Gyki"}, yo={0: "0"})
iq.p.yaxis.axis_label = "q (nA)"

sIN = Panel(607, 980, 140, 56, axes=False)
sIN.lab(695, 1014, "p: ***", size="14px", align="center")
sIN.lab(695, 1027, "r: 1.00", size="14px", align="center")
iN = Panel(607, 1036, 140, 158, xr=(-0.5, 1.5), yr=(0, 492), left=43, right=9, top=3, bottom=27,
           fs="13px", lfs="14px")
boxplot(iN.p, 0, I_N_ctrl, I_N_stats[0], "#a3a3a3", 0.7, width=0.4)
boxplot(iN.p, 1, I_N_gyki, I_N_stats[1], SALMON, 0.7, width=0.4)
ticks(iN.p, xt=[0, 1], yt=[0, 200, 400], xo={0: "Ctrl", 1: "Gyki"})
iN.p.yaxis.axis_label = "N"

band5 = row(column(W(sH1), W(h1)), column(W(sH2), W(h2)), column(W(sI), W(it), W(ib)),
            column(W(sIq), W(iq)), column(W(sIN), W(iN)))

layout = column(band1, band2, band3, band4, band5)

open("out.html", "w").write(file_html(layout, INLINE))
